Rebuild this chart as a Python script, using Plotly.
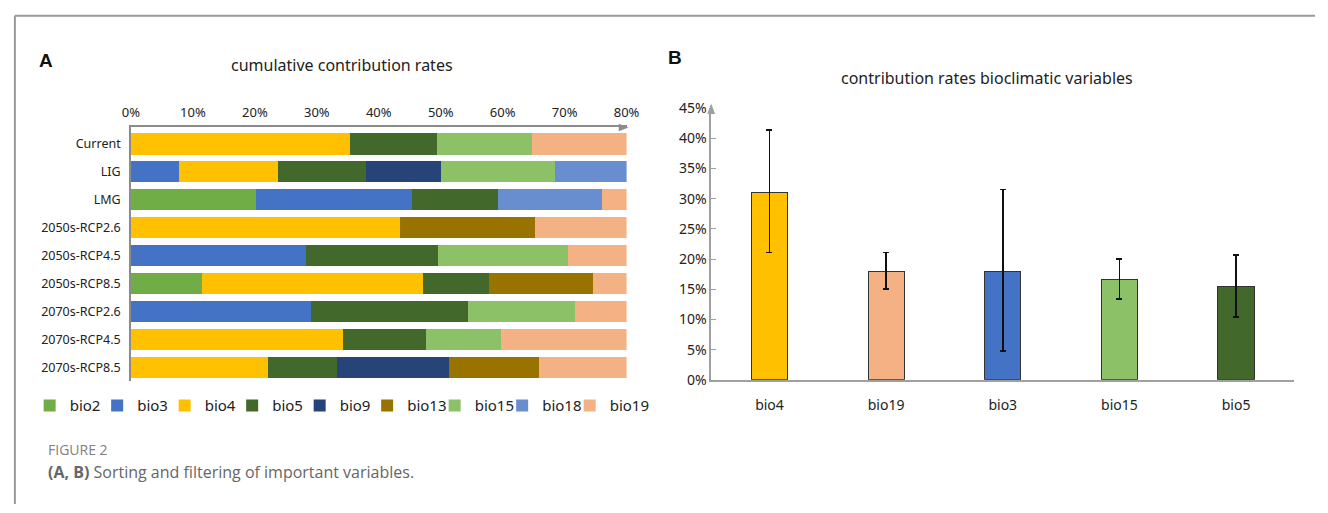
import plotly.graph_objects as go

W, H = 1328, 513

# ---------- Panel A data ----------
scenarios = ["Current", "LIG", "LMG", "2050s-RCP2.6", "2050s-RCP4.5", "2050s-RCP8.5",
             "2070s-RCP2.6", "2070s-RCP4.5", "2070s-RCP8.5"]
bio2 = [0, 0, 20.2, 0, 0, 11.5, 0, 0, 0]
bio3 = [0, 7.8, 25.1, 0, 28.2, 0, 29.0, 0, 0]
bio4 = [35.3, 15.9, 0, 43.5, 0, 35.7, 0, 34.3, 22.2]
bio5 = [14.1, 14.3, 13.9, 0, 21.4, 10.6, 25.4, 13.4, 11.0]
bio9 = [0, 12.0, 0, 0, 0, 0, 0, 0, 18.2]
bio13 = [0, 0, 0, 21.7, 0, 16.7, 0, 0, 14.4]
bio15 = [15.4, 18.4, 0, 0, 21.0, 0, 17.2, 12.1, 0]
bio18 = [0, 11.6, 16.9, 0, 0, 0, 0, 0, 0]
bio19 = [15.2, 0, 3.9, 14.8, 9.4, 5.5, 8.4, 20.2, 14.2]
a_ticks = [0, 10, 20, 30, 40, 50, 60, 70, 80]

# ---------- Panel B data ----------
b_vars = ["bio4", "bio19", "bio3", "bio15", "bio5"]
b_means = [31.1, 18.0, 18.0, 16.7, 15.4]
b_err_plus = [10.3, 3.1, 13.5, 3.35, 5.3]
b_err_minus = [10.0, 3.0, 13.2, 3.3, 5.0]
b_ticks = [0, 5, 10, 15, 20, 25, 30, 35, 40, 45]

colors = {
    "bio2": "#70AD47", "bio3": "#4472C4", "bio4": "#FFC000", "bio5": "#43682B",
    "bio9": "#264478", "bio13": "#997300", "bio15": "#8DC168", "bio18": "#698ED0",
    "bio19": "#F4B183",
}
series = [("bio2", bio2), ("bio3", bio3), ("bio4", bio4), ("bio5", bio5), ("bio9", bio9),
          ("bio13", bio13), ("bio15", bio15), ("bio18", bio18), ("bio19", bio19)]

def px(x):
    return x / W

def py(y):
    return 1 - y / H

fig = go.Figure()

for name, vals in series:
    fig.add_trace(go.Bar(
        y=scenarios, x=[v if v else None for v in vals], name=name, orientation="h",
        marker=dict(color=colors[name], line=dict(width=0)), width=0.76,
        xaxis="x", yaxis="y", showlegend=True,
    ))
# empty spacer entry so the last legend label is not clipped
fig.add_trace(go.Bar(y=[None], x=[None], name=" ", orientation="h",
                     marker=dict(color="rgba(0,0,0,0)", line=dict(width=0, color="rgba(0,0,0,0)")),
                     xaxis="x", yaxis="y", showlegend=True, hoverinfo="skip"))

fig.add_trace(go.Bar(
    x=b_vars, y=b_means, width=0.31,
    marker=dict(color=[colors[v] for v in b_vars], line=dict(color="#333333", width=1)),
    error_y=dict(type="data", symmetric=False, array=b_err_plus, arrayminus=b_err_minus,
                 color="#111111", thickness=1.6, width=3),
    xaxis="x2", yaxis="y2", showlegend=False,
))

font_main = "Noto Sans, Open Sans, sans-serif"

fig.update_layout(
    width=W, height=H, margin=dict(l=0, r=0, t=0, b=0),
    paper_bgcolor="white", plot_bgcolor="white", barmode="stack",
    font=dict(family=font_main, color="#222222", size=13),
    xaxis=dict(domain=[px(124), px(628)], range=[0, 80], side="top", tickvals=a_ticks,
               ticktext=[f"{t}%" for t in a_ticks], showgrid=False, zeroline=False,
               showline=True, linecolor="#8c8c8c", linewidth=1.5, ticks="",
               ticklabelstandoff=4, tickfont=dict(size=13, color="#222"), anchor="y",
               fixedrange=True),
    yaxis=dict(domain=[py(385), py(122)], range=[8.48, -0.59], type="category",
               showgrid=False, zeroline=False, showline=True, linecolor="#8c8c8c",
               linewidth=1.5, ticks="", tickfont=dict(size=12.5, color="#222"),
               ticklabelstandoff=6, anchor="x"),
    xaxis2=dict(domain=[px(714), px(1307)], showgrid=False, zeroline=False, showline=True,
                linecolor="#a0a0a0", linewidth=1.5, ticks="", anchor="y2",
                ticklabelstandoff=12, tickfont=dict(size=14, color="#222")),
    yaxis2=dict(domain=[py(384), py(102)], range=[0, 45], tickvals=b_ticks,
                ticktext=[f"{t}%" for t in b_ticks], showgrid=False, zeroline=False,
                showline=True, linecolor="#a0a0a0", linewidth=1.5, ticks="inside",
                ticklen=5, tickcolor="#a0a0a0", anchor="x2",
                tickfont=dict(size=14, color="#222")),
    legend=dict(orientation="h", x=px(21), xanchor="left", y=py(411), yanchor="middle",
                font=dict(size=15, color="#222"), itemwidth=30, traceorder="normal",
                entrywidth=22.5, entrywidthmode="pixels", bgcolor="rgba(0,0,0,0)",
                tracegroupgap=0, itemclick=False),
    bargap=0.24,
)

# arrows at the end of axes
fig.add_shape(type="path", xref="paper", yref="paper",
              path=f"M {px(620)} {py(118)} L {px(630)} {py(122)} L {px(620)} {py(126)} Z",
              fillcolor="#8c8c8c", line=dict(width=0))
fig.add_shape(type="path", xref="paper", yref="paper",
              path=f"M {px(710)} {py(108)} L {px(714)} {py(97)} L {px(718)} {py(108)} Z",
              fillcolor="#a0a0a0", line=dict(width=0))

# border lines
fig.add_shape(type="line", xref="paper", yref="paper", x0=px(6), x1=1, y0=py(6), y1=py(6),
              line=dict(color="#9a9a9a", width=2))
fig.add_shape(type="line", xref="paper", yref="paper", x0=px(6), x1=px(6), y0=py(6), y1=0,
              line=dict(color="#9a9a9a", width=2))

ann = [
    dict(x=px(28), y=py(52), text="<b>A</b>", font=dict(size=19, family="Liberation Sans, Arial", color="#111"),
         xanchor="left"),
    dict(x=px(668), y=py(49), text="<b>B</b>", font=dict(size=19, family="Liberation Sans, Arial", color="#111"),
         xanchor="left"),
    dict(x=px(339), y=py(57), text="cumulative contribution rates", font=dict(size=16, color="#222"),
         xanchor="center"),
    dict(x=px(994), y=py(71), text="contribution rates bioclimatic variables", font=dict(size=16, color="#222"),
         xanchor="center"),
    dict(x=px(38), y=py(456), text="FIGURE 2", font=dict(size=14, color="#808080", family="Open Sans"),
         xanchor="left"),
    dict(x=px(38), y=py(480), text="<b>(A, B)</b> Sorting and filtering of important variables.",
         font=dict(size=16, color="#666666", family="Open Sans"), xanchor="left"),
]
for a in ann:
    fig.add_annotation(xref="paper", yref="paper", showarrow=False, yanchor="middle", **a)

fig.write_html("out.html", config={"displayModeBar": False},
               post_script="document.body.style.margin='0';document.body.style.overflow='hidden';")
